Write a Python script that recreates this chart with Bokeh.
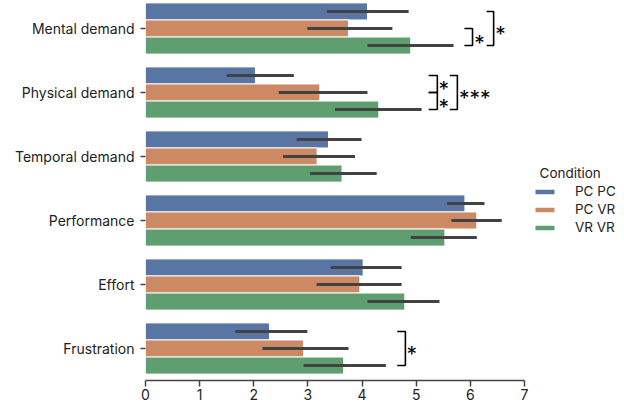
import numpy as np
from bokeh.plotting import figure
from bokeh.models import Range1d, FixedTicker, ColumnDataSource, Legend, LegendItem
from bokeh.transform import dodge
from bokeh.embed import file_html
from bokeh.resources import INLINE
from bokeh.core.properties import value

# ---------------- data ----------------
categories = ["Mental demand", "Physical demand", "Temporal demand",
              "Performance", "Effort", "Frustration"]
conditions = ["PC PC", "PC VR", "VR VR"]
colors = ["#5975a4", "#cc8963", "#5f9e6e"]

pcpc_mean = [4.10, 2.03, 3.38, 5.90, 4.02, 2.29]
pcpc_lo = [3.35, 1.50, 2.79, 5.57, 3.42, 1.66]
pcpc_hi = [4.86, 2.74, 3.99, 6.26, 4.73, 2.99]

pcvr_mean = [3.75, 3.22, 3.17, 6.12, 3.96, 2.92]
pcvr_lo = [2.99, 2.46, 2.54, 5.65, 3.16, 2.16]
pcvr_hi = [4.56, 4.10, 3.87, 6.58, 4.73, 3.75]

vrvr_mean = [4.90, 4.31, 3.63, 5.53, 4.79, 3.66]
vrvr_lo = [4.10, 3.50, 3.04, 4.90, 4.10, 2.92]
vrvr_hi = [5.69, 5.10, 4.27, 6.12, 5.43, 4.44]

# significance brackets: category, condition a, condition b, bracket x0, x1, label, label x
sig_category = ["Mental demand", "Mental demand", "Physical demand",
                "Physical demand", "Physical demand", "Frustration"]
sig_cond_a = ["PC VR", "PC PC", "PC PC", "PC VR", "PC PC", "PC PC"]
sig_cond_b = ["VR VR", "VR VR", "PC VR", "VR VR", "VR VR", "VR VR"]
sig_x0 = [5.89, 6.30, 5.23, 5.23, 5.62, 4.65]
sig_x1 = [6.04, 6.43, 5.39, 5.39, 5.76, 4.80]
sig_label = ["*", "*", "*", "*", "***", "*"]
sig_label_x = [6.07, 6.46, 5.41, 5.41, 5.79, 4.82]

x_ticks = [0, 1, 2, 3, 4, 5, 6, 7]

# ---------------- layout ----------------
FONT = "Inter"
group_width = 0.8
bar_h = group_width / len(conditions)
offsets = [(i - (len(conditions) - 1) / 2) * bar_h for i in range(len(conditions))]
cat_pos = list(range(len(categories)))

p = figure(frame_width=379, frame_height=380,
           x_range=Range1d(0, 7), y_range=Range1d(5.5, -0.4375),
           output_backend="svg", toolbar_location=None,
           min_border_left=145, min_border_top=0, min_border_bottom=0,
           min_border_right=0)
p.outline_line_color = None
p.xgrid.visible = False
p.ygrid.visible = False
p.background_fill_color = "white"
p.border_fill_color = "white"

means = [pcpc_mean, pcvr_mean, vrvr_mean]
los = [pcpc_lo, pcvr_lo, vrvr_lo]
his = [pcpc_hi, pcvr_hi, vrvr_hi]

legend_items = []
for i, cond in enumerate(conditions):
    src = ColumnDataSource(dict(pos=cat_pos, mean=means[i], lo=los[i], hi=his[i]))
    r = p.hbar(y=dodge("pos", offsets[i]), right="mean", left=0, height=bar_h,
               source=src, fill_color=colors[i], line_color="white", line_width=1)
    legend_items.append(LegendItem(label=cond, renderers=[r]))
for i, cond in enumerate(conditions):
    src = ColumnDataSource(dict(pos=cat_pos, lo=los[i], hi=his[i]))
    p.segment(x0="lo", x1="hi", y0=dodge("pos", offsets[i]), y1=dodge("pos", offsets[i]),
              source=src, line_color="#424242", line_width=3)

# brackets
bx, by, tx, ty = [], [], [], []
for c, a, b, x0, x1, lx in zip(sig_category, sig_cond_a, sig_cond_b, sig_x0, sig_x1, sig_label_x):
    ci = categories.index(c)
    y0 = ci + offsets[conditions.index(a)]
    y1 = ci + offsets[conditions.index(b)]
    bx.append([x0, x1, x1, x0])
    by.append([y0, y0, y1, y1])
    tx.append(lx)
    ty.append((y0 + y1) / 2)
p.multi_line(xs=bx, ys=by, line_color="black", line_width=1.6)
p.text(x=tx, y=ty, text=sig_label, text_font=value(FONT), text_font_size="21px",
       text_baseline="middle", text_align="left", text_color="black", y_offset=6)

# axes
p.xaxis.ticker = FixedTicker(ticks=x_ticks)
p.xaxis.axis_line_color = "#444444"
p.xaxis.axis_line_width = 1.5
p.xaxis.major_tick_line_color = "#444444"
p.xaxis.major_tick_line_width = 1.5
p.xaxis.major_tick_out = 6
p.xaxis.major_tick_in = 0
p.xaxis.minor_tick_line_color = None
p.xaxis.major_label_standoff = 2
p.xaxis.major_label_text_font = FONT
p.xaxis.major_label_text_font_size = "14px"
p.xaxis.major_label_text_color = "#222222"

p.yaxis.ticker = FixedTicker(ticks=cat_pos)
p.yaxis.major_label_overrides = {i: c for i, c in enumerate(categories)}
p.yaxis.axis_line_color = None
p.yaxis.major_tick_line_color = "#444444"
p.yaxis.major_tick_line_width = 1.5
p.yaxis.major_tick_out = 5
p.yaxis.major_tick_in = 0
p.yaxis.minor_tick_line_color = None
p.yaxis.major_label_standoff = 6
p.yaxis.major_label_text_font = FONT
p.yaxis.major_label_text_font_size = "14px"
p.yaxis.major_label_text_color = "#222222"

legend = Legend(items=legend_items, title="\u00a0\u00a0Condition", location=(8, 145))
legend.border_line_color = None
legend.background_fill_alpha = 0
legend.title_text_font = FONT
legend.title_text_font_size = "13.5px"
legend.title_text_font_style = "normal"
legend.title_text_color = "#222222"
legend.title_standoff = 2
legend.label_text_font = FONT
legend.label_text_font_size = "13.5px"
legend.label_text_color = "#222222"
legend.glyph_width = 25
legend.glyph_height = 7
legend.label_height = 14
legend.spacing = 2
legend.label_standoff = 18
legend.padding = 0
legend.margin = 10
p.add_layout(legend, "right")

open("out.html", "w").write(file_html(p, INLINE))
